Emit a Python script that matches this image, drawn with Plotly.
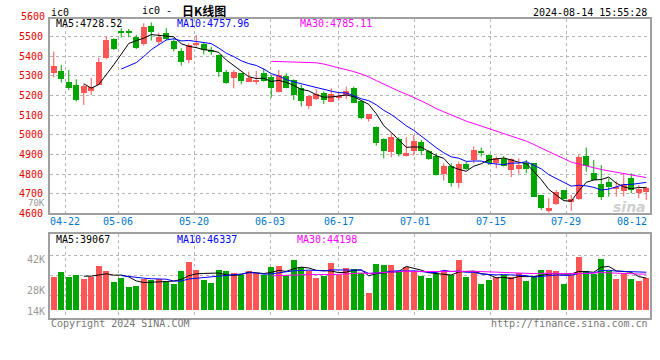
import plotly.graph_objects as go
import pandas as pd

# ---------------- data ----------------
dates = (["04-18", "04-19", "04-22", "04-23", "04-24", "04-25", "04-26", "04-29", "04-30"] +
         ["05-06", "05-07", "05-08", "05-09", "05-10", "05-13", "05-14", "05-15", "05-16", "05-17",
          "05-20", "05-21", "05-22", "05-23", "05-24", "05-27", "05-28", "05-29", "05-30", "05-31"] +
         ["06-03", "06-04", "06-05", "06-06", "06-07", "06-11", "06-12", "06-13", "06-14", "06-17",
          "06-18", "06-19", "06-20", "06-21", "06-24", "06-25", "06-26", "06-27", "06-28"] +
         ["07-01", "07-02", "07-03", "07-04", "07-05", "07-08", "07-09", "07-10", "07-11", "07-12",
          "07-15", "07-16", "07-17", "07-18", "07-19", "07-22", "07-23", "07-24", "07-25", "07-26",
          "07-29", "07-30", "07-31"] +
         ["08-01", "08-02", "08-05", "08-06", "08-07", "08-08", "08-09", "08-12", "08-13"])

opens = [5317, 5327, 5271, 5254, 5211, 5225, 5254, 5393, 5488, 5529,
         5529, 5500, 5463, 5554, 5475, 5517, 5480, 5427, 5381, 5458,
         5461, 5432, 5407, 5318, 5288, 5313, 5271, 5271, 5317, 5296,
         5220, 5300, 5279, 5237, 5149, 5181, 5215, 5169, 5186, 5203,
         5240, 5172, 5081, 5042, 4979, 4911, 4979, 4894, 4918, 4962,
         4918, 4892, 4800, 4843, 4753, 4851, 4872, 4918, 4897, 4855,
         4875, 4821, 4826, 4855, 4855, 4693, 4612, 4648, 4719, 4656,
         4671, 4892, 4804, 4750, 4758, 4722, 4716, 4782, 4705, 4711]
highs = [5424, 5356, 5330, 5283, 5257, 5291, 5393, 5503, 5492, 5543,
         5539, 5509, 5568, 5573, 5520, 5543, 5492, 5441, 5466, 5509,
         5471, 5449, 5410, 5330, 5330, 5315, 5322, 5325, 5339, 5305,
         5330, 5313, 5283, 5254, 5198, 5232, 5220, 5237, 5215, 5245,
         5245, 5172, 5106, 5042, 4982, 5008, 4987, 4987, 4999, 4974,
         4923, 4906, 4855, 4855, 4863, 4863, 4940, 4935, 4897, 4889,
         4892, 4880, 4880, 4872, 4855, 4693, 4677, 4719, 4719, 4694,
         4897, 4935, 4872, 4846, 4778, 4765, 4801, 4804, 4744, 4736]
lows = [5293, 5266, 5228, 5169, 5152, 5203, 5254, 5385, 5432, 5495,
        5497, 5437, 5454, 5480, 5458, 5483, 5424, 5352, 5364, 5441,
        5410, 5407, 5296, 5260, 5237, 5257, 5268, 5257, 5271, 5189,
        5215, 5237, 5177, 5144, 5130, 5177, 5157, 5166, 5174, 5181,
        5161, 5079, 5067, 4945, 4880, 4885, 4889, 4889, 4894, 4897,
        4872, 4792, 4767, 4736, 4728, 4821, 4855, 4889, 4846, 4829,
        4838, 4784, 4801, 4804, 4685, 4617, 4604, 4643, 4668, 4612,
        4668, 4812, 4770, 4668, 4685, 4685, 4685, 4702, 4677, 4668]
closes = [5352, 5283, 5237, 5177, 5250, 5242, 5373, 5483, 5436, 5517,
          5517, 5444, 5548, 5526, 5497, 5487, 5437, 5373, 5458, 5466,
          5432, 5420, 5322, 5266, 5322, 5276, 5291, 5279, 5274, 5237,
          5305, 5240, 5203, 5172, 5198, 5208, 5177, 5208, 5198, 5223,
          5164, 5084, 5106, 4960, 4919, 4991, 4901, 4909, 4969, 4919,
          4875, 4795, 4843, 4756, 4851, 4826, 4923, 4906, 4855, 4880,
          4843, 4875, 4846, 4826, 4685, 4626, 4626, 4711, 4673, 4673,
          4889, 4843, 4770, 4685, 4736, 4733, 4750, 4719, 4722, 4728]
volumes_k = [39.6, 46.4, 40.4, 42.8, 38.0, 39.6, 53.6, 47.6, 34.4, 38.8,
             28.4, 29.6, 37.6, 36.0, 38.0, 34.0, 32.0, 47.6, 58.4, 48.8,
             36.8, 33.2, 48.8, 47.6, 45.2, 42.0, 47.6, 45.2, 42.8, 52.4,
             53.6, 42.0, 60.8, 52.4, 47.6, 39.2, 41.6, 57.2, 42.8, 50.4,
             50.0, 44.8, 21.2, 56.0, 54.8, 54.8, 47.6, 52.4, 46.8, 41.6,
             39.2, 43.6, 47.6, 42.0, 60.0, 40.4, 47.6, 32.0, 36.8, 40.4,
             42.8, 40.4, 45.2, 35.6, 41.6, 48.8, 48.8, 47.6, 32.0, 42.8,
             64.4, 47.6, 44.0, 62.0, 47.6, 38.0, 45.2, 38.0, 35.6, 39.2]

price_ticks = [4600, 4700, 4800, 4900, 5000, 5100, 5200, 5300, 5400, 5500]
label_dates = ["04-22", "05-06", "05-20", "06-03", "06-17", "07-01", "07-15", "07-29", "08-12"]
vol_grid = [18, 42, 66]
vol_labels = ["56K", "42K", "28K", "14K"]
vol_label_vals = [96.0, 61.2, 24.0, -0.4]

ma_main_text = ["MA5:4728.52", "MA10:4757.96", "MA30:4785.11"]
ma_vol_text = ["MA5:39067", "MA10:46337", "MA30:44198"]

# ---------------- styles ----------------
RED = "#ff5555"
GREEN = "#00a600"
MONO = "DejaVu Sans Mono"
GRID = "#b4b4b4"
FRAME = "#a0a0a0"
L, R, T, B = 50, 10, 19, 42
W, H = 660, 360
PH = H - T - B
PW = W - L - R


def py(p):
    return (H - B - p) / PH


def px(p):
    return (p - L) / PW


n = len(closes)
x = list(range(n))
up = [c >= o for o, c in zip(opens, closes)]
colors = [RED if u else GREEN for u in up]

cs = pd.Series(closes, dtype=float)
vs = pd.Series(volumes_k, dtype=float)
ma = {k: cs.rolling(k).mean() for k in (5, 10, 30)}
vma = {k: vs.rolling(k).mean() for k in (5, 10, 30)}
ma_colors = {5: "#000000", 10: "#0000ff", 30: "#ff00ff"}

fig = go.Figure()

for sel, col in ((True, RED), (False, GREEN)):
    wx, wy = [], []
    for i in range(n):
        if up[i] == sel:
            wx += [x[i], x[i], None]
            wy += [lows[i], highs[i], None]
    fig.add_trace(go.Scatter(x=wx, y=wy, mode="lines", line=dict(color=col, width=1),
                             hoverinfo="skip", showlegend=False, xaxis="x", yaxis="y"))

fig.add_trace(go.Bar(x=x, y=[abs(c - o) for o, c in zip(opens, closes)],
                     base=[min(o, c) for o, c in zip(opens, closes)],
                     marker=dict(color=colors, line=dict(width=0)), width=0.8,
                     showlegend=False, xaxis="x", yaxis="y"))

for k in (5, 10, 30):
    fig.add_trace(go.Scatter(x=x, y=ma[k], mode="lines", line=dict(color=ma_colors[k], width=1),
                             showlegend=False, xaxis="x", yaxis="y"))

fig.add_trace(go.Bar(x=x, y=volumes_k, marker=dict(color=colors, line=dict(width=0)), width=0.8,
                     showlegend=False, xaxis="x2", yaxis="y2"))
for k in (5, 10, 30):
    fig.add_trace(go.Scatter(x=x, y=vma[k], mode="lines", line=dict(color=ma_colors[k], width=1),
                             showlegend=False, xaxis="x2", yaxis="y2"))

# grid positions of the date ticks (Sina spaces its date grid over n-1 slots)
tick_idx = [dates.index(d) for d in label_dates]
slot = PW / n
grid_x = [(i * PW / (n - 1) - slot / 2) / slot for i in tick_idx]
grid_x_lines = grid_x[:-1]

axis_common = dict(showline=True, mirror=True, linecolor=FRAME, linewidth=2, zeroline=False,
                   showgrid=True, gridcolor=GRID, griddash="dot", gridwidth=1, ticks="")

main_bottom = py(213.3)
vol_top = py(234.3)
y_top_val = 4600 + (213.3 - T) * (100 / 19.63)

fig.update_layout(
    width=W, height=H, margin=dict(l=L, r=R, t=T, b=B, autoexpand=False),
    paper_bgcolor="white", plot_bgcolor="white", barmode="overlay", bargap=0,
    xaxis=dict(domain=[0, 1], anchor="y", range=[-0.5, n - 0.5], tickvals=grid_x_lines,
               showticklabels=False, **axis_common),
    yaxis=dict(domain=[main_bottom, 1], anchor="x", range=[4600, y_top_val], tickvals=price_ticks,
               ticktext=[str(v) for v in price_ticks], tickfont=dict(family=MONO, size=10, color="#e60000"),
               ticklabelstandoff=3, **axis_common),
    xaxis2=dict(domain=[0, 1], anchor="y2", matches="x", range=[-0.5, n - 0.5], tickvals=grid_x_lines,
                showticklabels=False, **axis_common),
    yaxis2=dict(domain=[0, vol_top], anchor="x2", range=[(310.7 - (H - B)) * 1.2, (310.7 - 234.3) * 1.2],
                tickvals=vol_grid, showticklabels=False, **axis_common),
    font=dict(family=MONO, size=10),
)

ann = []


def add(text, xp, yp, anchor="left", color="#000", size=10, family=MONO, bold=False):
    ann.append(dict(text=("<b>%s</b>" % text) if bold else text, x=px(xp), y=py(yp), xref="paper",
                    yref="paper", xanchor=anchor, yanchor="middle", showarrow=False,
                    font=dict(family=family, size=size, color=color)))


# header
add("ic0", 49, 12)
add("ic0 -", 140, 10)
add("日K线图", 180, 10, family="Noto Sans CJK SC", size=12, bold=True)
add("2024-08-14 15:55:28", 649, 12, anchor="right")
add("5600", 46.5, 16, anchor="right", color="#e60000")
add("70K", 46.5, 203, anchor="right", color="#999999", size=9)

# MA labels
for t, xp, c in zip(ma_main_text, (54, 175, 298), ("#000000", "#0000ff", "#ff00ff")):
    add(t, xp, 24, color=c)
for t, xp, c in zip(ma_vol_text, (54, 175, 295), ("#000000", "#0000ff", "#ff00ff")):
    add(t, xp, 239, color=c)

# date labels
for d, g in zip(label_dates, grid_x):
    if d == label_dates[-1]:
        add(d, 649, 221.7, anchor="right", color="#0077cc")
    else:
        ann.append(dict(text=d, x=g, y=py(221.7), xref="x", yref="paper", xanchor="center",
                        yanchor="middle", showarrow=False, font=dict(family=MONO, size=10, color="#0077cc")))

# volume labels
for t, v in zip(vol_labels, vol_label_vals):
    ann.append(dict(text=t, x=px(46.5), y=v, xref="paper", yref="y2", xanchor="right", yanchor="middle",
                    showarrow=False, font=dict(family=MONO, size=10, color="#999999")))

# footer
add("Copyright 2024 SINA.COM", 49, 323.5, color="#777777")
add("http://finance.sina.com.cn", 650, 323.5, anchor="right", color="#777777")

# watermark
add("<i>sina</i>", 648, 207, anchor="right", color="#cfcfcf", size=14, family="DejaVu Sans", bold=True)

fig.update_layout(annotations=ann)
fig.write_html("out.html", config={"displayModeBar": False},
               post_script="document.body.style.margin='0';document.body.style.padding='0';")
